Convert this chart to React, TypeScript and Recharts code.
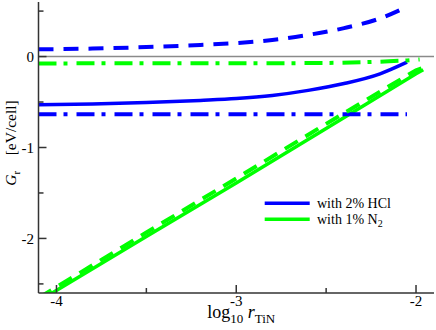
import { Label, Legend, Line, LineChart, ReferenceLine, XAxis, YAxis } from 'recharts'

const SERIF = "'Liberation Serif', 'Times New Roman', Times, serif"
const AXIS = '#333'
const BLUE = '#0000ff'
const GREEN = '#00ff00'

const X_DOMAIN = [-4.1, -1.9]
const Y_DOMAIN = [-2.6, 0.6]
const X_TICKS = [-4, -3.5, -3, -2.5, -2]
const Y_TICKS = [-2.5, -2, -1.5, -1, -0.5, 0, 0.5]

const HCL_NAME = 'with 2% HCl'
const N2_NAME = 'with 1% N2'
const LEGEND_ORDER = [HCL_NAME, N2_NAME]

// 2% HCl
const HCL_X = [-4.1, -3.8, -3.5, -3.2, -3.0, -2.8, -2.6, -2.4, -2.2, -2.05]
const HCL_SOLID = [-0.53, -0.522, -0.506, -0.482, -0.462, -0.428, -0.372, -0.297, -0.19, -0.062]
const HCL_DASHED = [0.08, 0.088, 0.104, 0.128, 0.148, 0.182, 0.238, 0.313, 0.42, 0.548]
const HCL_DASHDOT = [-0.635, -0.635, -0.635, -0.635, -0.635, -0.635, -0.635, -0.635, -0.635, -0.635]

// 1% N2
const N2_X = [-4.1, -3.5, -3.0, -2.5, -2.0, -1.96]
const N2_SOLID = [-2.69, -1.98, -1.39, -0.79, -0.19, -0.145]
const N2_DASHED_X = [-4.1, -3.5, -3.0, -2.5, -2.0, -1.97]
const N2_DASHED = [-2.655, -1.935, -1.34, -0.74, -0.15, -0.13]
const N2_DASHDOT_X = [-4.1, -3.0, -2.5, -2.3, -2.15, -2.05, -1.98]
const N2_DASHDOT = [-0.075, -0.074, -0.07, -0.062, -0.052, -0.042, -0.032]

const rows = (xs: number[], ys: number[]) => xs.map((x, i) => ({ x, y: ys[i] }))

const isMajor = (v: number) => Number.isInteger(v)
const serif = { fontFamily: SERIF }

function BottomTick(p: any) {
  const v = p.payload?.value
  return (
    <g>
      <line x1={p.x} x2={p.x} y1={p.y} y2={p.y - (isMajor(v) ? 8 : 5)} stroke={AXIS} strokeWidth={1.5} />
      {isMajor(v) && (
        <text x={p.x} y={p.y + 13} textAnchor="middle" fontSize={15} style={serif} fill="#000">
          {v}
        </text>
      )}
    </g>
  )
}

function TopTick(p: any) {
  const v = p.payload?.value
  return <line x1={p.x} x2={p.x} y1={p.y} y2={p.y + (isMajor(v) ? 8 : 5)} stroke={AXIS} strokeWidth={1.5} />
}

function LeftTick(p: any) {
  const v = p.payload?.value
  return (
    <g>
      <line x1={p.x} x2={p.x + (isMajor(v) ? 8 : 5)} y1={p.y} y2={p.y} stroke={AXIS} strokeWidth={1.5} />
      {isMajor(v) && (
        <text x={p.x - 4.5} y={p.y} dy="0.35em" textAnchor="end" fontSize={15} style={serif} fill="#000">
          {v}
        </text>
      )}
    </g>
  )
}

function RightTick(p: any) {
  const v = p.payload?.value
  return <line x1={p.x} x2={p.x - (isMajor(v) ? 8 : 5)} y1={p.y} y2={p.y} stroke={AXIS} strokeWidth={1.5} />
}

function XTitle(p: any) {
  const vb = p.viewBox ?? { x: 0, y: 0, width: 0 }
  return (
    <text x={vb.x + vb.width / 2 + 5} y={vb.y + 25.3} textAnchor="middle" fontSize={18} style={serif} fill="#000">
      <tspan>log</tspan>
      <tspan fontSize={13} dy={4.5}>10</tspan>
      <tspan dy={-4.5}> </tspan>
      <tspan fontStyle="italic">r</tspan>
      <tspan fontSize={13} dy={4.5}>TiN</tspan>
    </text>
  )
}

function YTitle(p: any) {
  const vb = p.viewBox ?? { x: 0, y: 0, height: 0 }
  const x = vb.x + 16
  const y = vb.y + vb.height / 2 - 4.5
  return (
    <text x={x} y={y} transform={`rotate(-90, ${x}, ${y})`} textAnchor="middle" fontSize={15.5} style={serif} fill="#000">
      <tspan fontStyle="italic">G</tspan>
      <tspan fontSize={11} dy={4}>r</tspan>
      <tspan dy={-4}>{'\u00a0\u00a0\u00a0\u00a0[eV/cell]'}</tspan>
    </text>
  )
}

function LegendBox(props: any) {
  const items = props.payload ?? []
  const ordered = LEGEND_ORDER.map((n) => items.find((it: any) => it.value === n)).filter(Boolean)
  return (
    <svg width={150} height={40} style={{ display: 'block', overflow: 'visible' }}>
      {ordered.map((it: any, i: number) => {
        const y = 9.3 + i * 16
        const m = String(it.value).match(/^(.*?)(\d)$/)
        return (
          <g key={i}>
            <line x1={2.7} x2={47.7} y1={y} y2={y} stroke={it.color} strokeWidth={3.5} />
            <text x={55} y={y + 4.7} fontSize={14} style={serif} fill="#000">
              {m ? (
                <>
                  <tspan>{m[1]}</tspan>
                  <tspan fontSize={10} dy={3}>{m[2]}</tspan>
                </>
              ) : (
                it.value
              )}
            </text>
          </g>
        )
      })}
    </svg>
  )
}

export default function App() {
  return (
    <div style={{ position: 'absolute', left: 0, top: 0, background: '#fff', fontFamily: SERIF }}>
      <LineChart width={436} height={330} margin={{ top: 2, right: 2, bottom: 0, left: 0 }}>
        <XAxis
          xAxisId="b"
          type="number"
          dataKey="x"
          domain={X_DOMAIN}
          ticks={X_TICKS}
          interval={0}
          allowDataOverflow
          height={37}
          tickSize={0}
          tickMargin={0}
          tick={BottomTick}
          axisLine={{ stroke: AXIS, strokeWidth: 1.5 }}
        >
          <Label content={XTitle} />
        </XAxis>
        <XAxis
          xAxisId="t"
          orientation="top"
          type="number"
          dataKey="x"
          domain={X_DOMAIN}
          ticks={X_TICKS}
          interval={0}
          allowDataOverflow
          height={0}
          tickSize={0}
          tickMargin={0}
          tick={TopTick}
          axisLine={{ stroke: AXIS, strokeWidth: 1.5 }}
        />
        <YAxis
          yAxisId="l"
          type="number"
          domain={Y_DOMAIN}
          ticks={Y_TICKS}
          interval={0}
          allowDataOverflow
          width={38.5}
          tickSize={0}
          tickMargin={0}
          tick={LeftTick}
          axisLine={{ stroke: AXIS, strokeWidth: 1.5 }}
        >
          <Label content={YTitle} />
        </YAxis>
        <YAxis
          yAxisId="r"
          orientation="right"
          type="number"
          domain={Y_DOMAIN}
          ticks={Y_TICKS}
          interval={0}
          allowDataOverflow
          width={0}
          tickSize={0}
          tickMargin={0}
          tick={RightTick}
          axisLine={{ stroke: AXIS, strokeWidth: 1.5 }}
        />
        <ReferenceLine xAxisId="b" yAxisId="l" y={0} stroke="#8a8a8a" strokeWidth={1.5} />

        <Line xAxisId="b" yAxisId="l" data={rows(HCL_X, HCL_SOLID)} dataKey="y" name={HCL_NAME}
          type="monotone" stroke={BLUE} strokeWidth={3.5} dot={false} activeDot={false} isAnimationActive={false} />
        <Line xAxisId="b" yAxisId="l" data={rows(N2_X, N2_SOLID)} dataKey="y" name={N2_NAME}
          type="linear" stroke={GREEN} strokeWidth={3.5} dot={false} activeDot={false} isAnimationActive={false} />
        <Line xAxisId="b" yAxisId="l" data={rows(HCL_X, HCL_DASHED)} dataKey="y" legendType="none"
          type="monotone" stroke={BLUE} strokeWidth={4} strokeDasharray="15 10" dot={false} activeDot={false} isAnimationActive={false} />
        <Line xAxisId="b" yAxisId="l" data={rows(HCL_X, HCL_DASHDOT)} dataKey="y" legendType="none"
          type="linear" stroke={BLUE} strokeWidth={4} strokeDasharray="18 7 4 9" dot={false} activeDot={false} isAnimationActive={false} />
        <Line xAxisId="b" yAxisId="l" data={rows(N2_DASHED_X, N2_DASHED)} dataKey="y" legendType="none"
          type="linear" stroke={GREEN} strokeWidth={4} strokeDasharray="15 9" dot={false} activeDot={false} isAnimationActive={false} />
        <Line xAxisId="b" yAxisId="l" data={rows(N2_DASHDOT_X, N2_DASHDOT)} dataKey="y" legendType="none"
          type="monotone" stroke={GREEN} strokeWidth={4} strokeDasharray="18 7 4 9" dot={false} activeDot={false} isAnimationActive={false} />

        <Legend
          layout="vertical"
          align="center"
          verticalAlign="middle"
          content={LegendBox}
          wrapperStyle={{ position: 'absolute', left: 262, top: 194, width: 150, height: 40 }}
        />
      </LineChart>
    </div>
  )
}
